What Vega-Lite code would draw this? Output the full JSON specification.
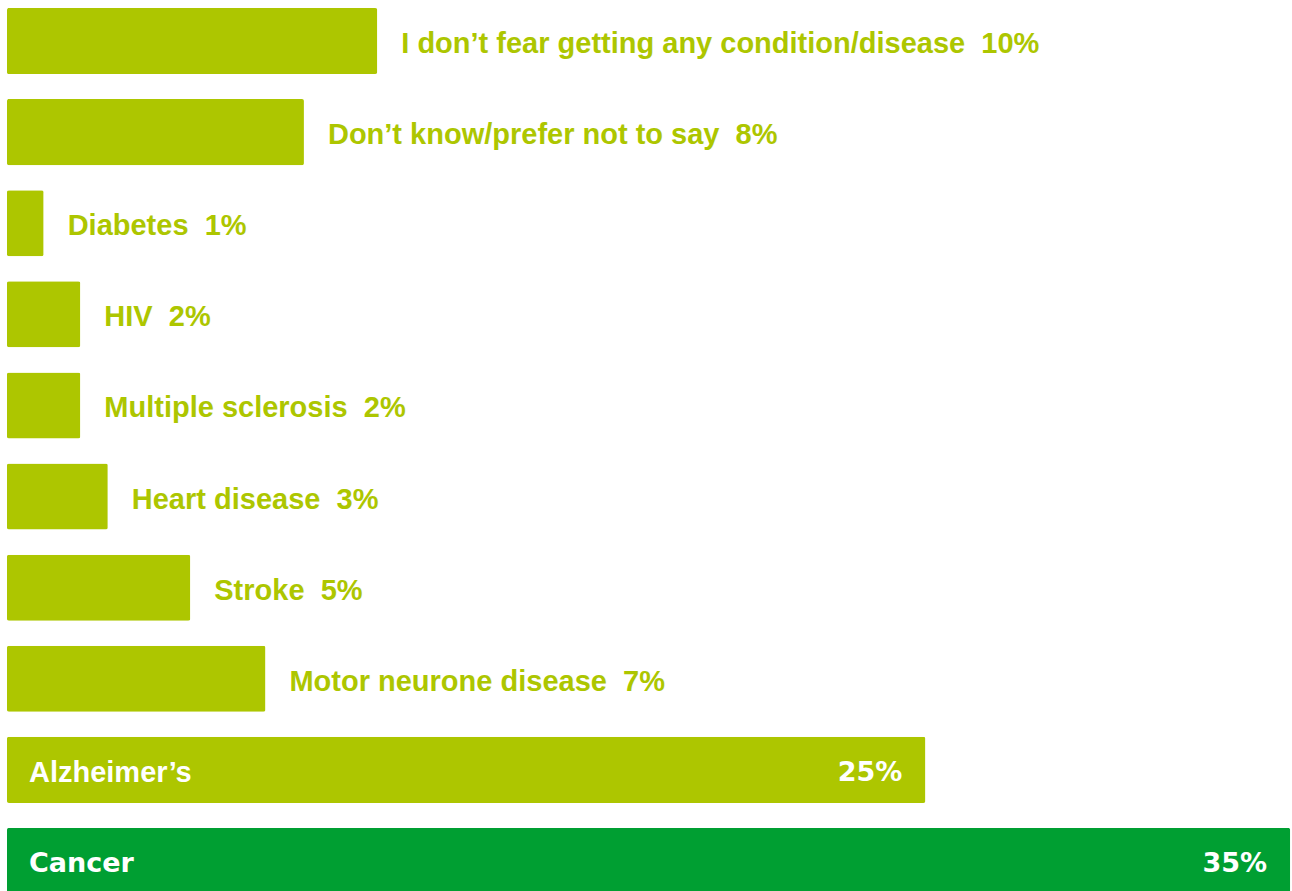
{
  "$schema": "https://vega.github.io/schema/vega-lite/v6.json",
  "width": 1292,
  "height": 902,
  "padding": 0,
  "autosize": {"type": "none"},
  "background": "white",
  "config": {"view": {"stroke": null}},
  "data": {
    "values": [
      {"condition": "I don’t fear getting any condition/disease", "value": 10.1, "pct": "10%"},
      {"condition": "Don’t know/prefer not to say", "value": 8.1, "pct": "8%"},
      {"condition": "Diabetes", "value": 1.0, "pct": "1%"},
      {"condition": "HIV", "value": 2.0, "pct": "2%"},
      {"condition": "Multiple sclerosis", "value": 2.0, "pct": "2%"},
      {"condition": "Heart disease", "value": 2.75, "pct": "3%"},
      {"condition": "Stroke", "value": 5.0, "pct": "5%"},
      {"condition": "Motor neurone disease", "value": 7.05, "pct": "7%"},
      {"condition": "Alzheimer’s", "value": 25.05, "pct": "25%"},
      {"condition": "Cancer", "value": 35.0, "pct": "35%"}
    ]
  },
  "encoding": {
    "y": {
      "field": "condition",
      "type": "nominal",
      "sort": null,
      "axis": null,
      "scale": {"paddingInner": 0.275, "paddingOuter": 0.088}
    }
  },
  "layer": [
    {
      "mark": {"type": "bar", "cornerRadius": 2},
      "encoding": {
        "x": {"field": "value", "type": "quantitative", "axis": null, "scale": {"domain": [-0.19, 35.05], "nice": false, "zero": false}},
        "color": {
          "condition": {"test": "datum.condition === 'Cancer'", "value": "#009f32"},
          "value": "#adc600"
        }
      }
    },
    {
      "transform": [
        {"filter": "datum.value < 20"},
        {"calculate": "datum.condition + '\u00a0\u00a0' + datum.pct", "as": "fullLabel"}
      ],
      "mark": {"type": "text", "align": "left", "baseline": "middle", "dx": 24, "dy": 3, "font": "Liberation Sans", "fontSize": 29, "fontWeight": "bold", "color": "#adc600"},
      "encoding": {
        "x": {"field": "value", "type": "quantitative"},
        "text": {"field": "fullLabel"}
      }
    },
    {
      "transform": [{"filter": "datum.condition === 'Alzheimer’s'"}],
      "mark": {"type": "text", "align": "left", "baseline": "middle", "dx": 22, "dy": 3, "font": "Liberation Sans", "fontSize": 29, "fontWeight": "bold", "color": "white"},
      "encoding": {
        "x": {"datum": 0, "type": "quantitative"},
        "text": {"field": "condition"}
      }
    },
    {
      "transform": [{"filter": "datum.condition === 'Cancer'"}],
      "mark": {"type": "text", "align": "left", "baseline": "middle", "dx": 22, "dy": 3, "font": "DejaVu Sans", "fontSize": 27, "fontWeight": "bold", "color": "white"},
      "encoding": {
        "x": {"datum": 0, "type": "quantitative"},
        "text": {"field": "condition"}
      }
    },
    {
      "transform": [{"filter": "datum.value >= 20"}],
      "mark": {"type": "text", "align": "right", "baseline": "middle", "dx": -23, "dy": 3, "font": "DejaVu Sans", "fontSize": 27, "fontWeight": "bold", "color": "white"},
      "encoding": {
        "x": {"field": "value", "type": "quantitative"},
        "text": {"field": "pct"}
      }
    }
  ]
}
